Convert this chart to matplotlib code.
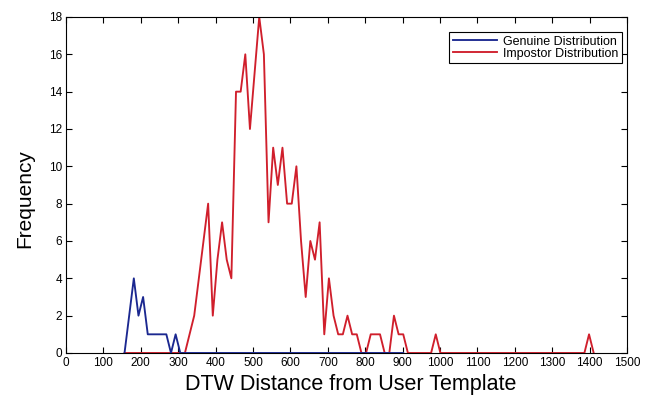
import numpy as np
import matplotlib
matplotlib.use('Agg')
import matplotlib.pyplot as plt

# histogram bins (DTW distance), both curves share the same grid
bin_start = 156.5
bin_width = 12.42

# impostor counts per bin
impostor = [0, 0, 0, 0, 0, 0, 0, 0, 0, 0, 0, 0, 0, 0,
            1, 2, 4, 6, 8, 2, 5, 7, 5, 4,
            14, 14, 16, 12, 15, 18, 16, 7, 11, 9, 11, 8, 8, 10,
            6, 3, 6, 5, 7, 1, 4, 2, 1, 1, 2, 1, 1, 0, 0,
            1, 1, 1, 0, 0, 2, 1, 1, 0,
            0, 0, 0, 0, 0, 1,
            0, 0, 0, 0, 0, 0, 0, 0, 0, 0, 0, 0, 0, 0, 0, 0,
            0, 0, 0, 0, 0, 0, 0, 0, 0, 0, 0, 0, 0, 0, 0, 0,
            1, 0]

# genuine counts per bin
genuine = [0, 2, 4, 2, 3, 1, 1, 1, 1, 1, 0, 1, 0] + [0] * 48

x_imp = bin_start + bin_width * np.arange(len(impostor))
x_gen = bin_start + bin_width * np.arange(len(genuine))

plt.rcParams['font.family'] = ['Liberation Sans', 'DejaVu Sans']

fig = plt.figure(figsize=(6.58, 3.98), dpi=100)
ax = fig.add_axes([0.1003, 0.1131, 0.8526, 0.8442])

l_imp, = ax.plot(x_imp, impostor, color='#d01f2c', lw=1.35, zorder=2)
l_gen, = ax.plot(x_gen, genuine, color='#1b2890', lw=1.35, zorder=3)

ax.set_xlim(0, 1500)
ax.set_ylim(0, 18)
ax.set_xticks(np.arange(0, 1501, 100))
ax.set_yticks(np.arange(0, 19, 2))
ax.tick_params(direction='in', top=True, right=True, length=4, width=0.8,
               labelsize=8.5, pad=3)
for s in ax.spines.values():
    s.set_linewidth(0.8)

ax.set_xlabel('DTW Distance from User Template', fontsize=15.5)
ax.xaxis.set_label_coords(0.508, -0.062)
ax.set_ylabel('Frequency', fontsize=15)
ax.yaxis.set_label_coords(-0.056, 0.46)

leg = ax.legend([l_gen, l_imp], ['Genuine Distribution', 'Impostor Distribution'],
                loc='upper right', bbox_to_anchor=(0.9905, 0.956), borderaxespad=0,
                fontsize=9, handlelength=3.5, labelspacing=0.0,
                borderpad=0.3, handletextpad=0.45, fancybox=False, framealpha=1)
leg.get_frame().set_edgecolor('black')
leg.get_frame().set_linewidth(0.8)

fig.savefig('out.png', dpi=100)
